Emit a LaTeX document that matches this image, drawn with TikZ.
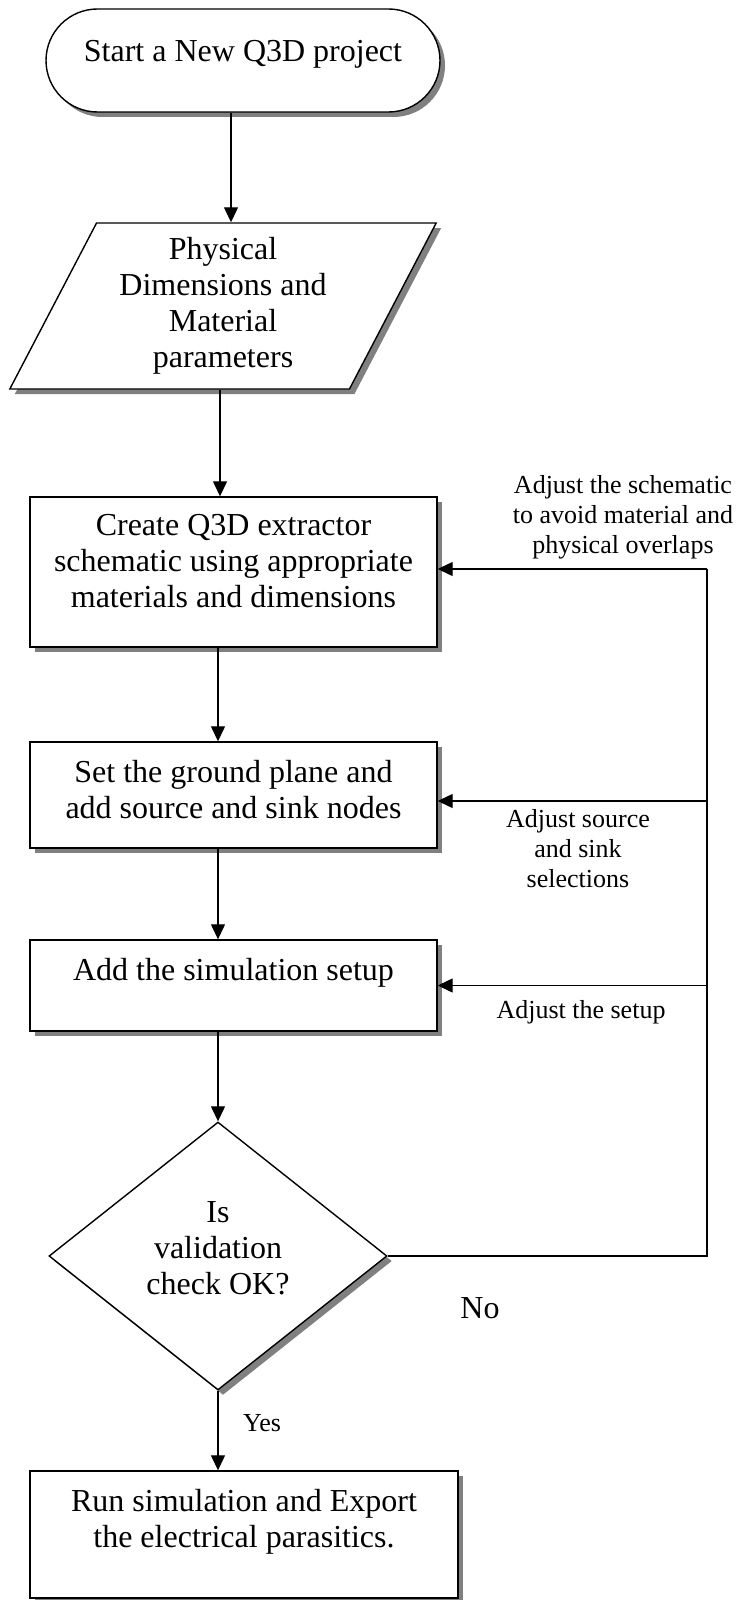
\documentclass[tikz,border=0pt]{standalone}
\usepackage{fontspec}
\setmainfont{Liberation Serif}
\usetikzlibrary{shapes.geometric,shapes.misc,shadows,arrows.meta}
\definecolor{shadowGray}{RGB}{128,128,128}

\begin{document}
\begin{tikzpicture}[x=1pt,y=-1pt,
  box/.style={draw,fill=white,line width=1.4pt,inner sep=0pt,align=center,
    font=\fontsize{32}{36}\selectfont,
    drop shadow={shadow xshift=5pt,shadow yshift=-5pt,fill=shadowGray,opacity=1}},
  note/.style={inner sep=0pt,align=center,font=\fontsize{26}{30}\selectfont},
  arr/.style={line width=1.3pt,-{Triangle[length=15pt,width=14pt]}},
  conn/.style={line width=1.3pt}]
\useasboundingbox (0,0) rectangle (742,1600);

% Flow steps
\node[box,rounded rectangle,minimum width=394pt,minimum height=103pt,text depth=20pt] (start) at (243,60.5) {Start a New Q3D project};
\node[box,trapezium,trapezium left angle=62.6,trapezium right angle=117.4,trapezium stretches=true,
  minimum width=428pt,minimum height=166pt] (input) at (223,306) {Physical\\Dimensions and\\Material\\parameters};
\node[box,minimum width=407pt,minimum height=150pt,text depth=22pt] (create) at (233.5,572) {Create Q3D extractor\\schematic using appropriate\\materials and dimensions};
\node[box,minimum width=407pt,minimum height=106pt,text depth=12pt] (sinks) at (233.5,795) {Set the ground plane and\\add source and sink nodes};
\node[box,minimum width=407pt,minimum height=91pt,text depth=33pt] (setup) at (233.5,985.5) {Add the simulation setup};
\node[box,diamond,minimum width=338pt,minimum height=268pt,text depth=16pt] (check) at (218,1256) {Is\\validation\\check OK?};
\node[box,minimum width=428pt,minimum height=127pt,text depth=33pt] (export) at (244,1534.5) {Run simulation and Export\\the electrical parasitics.};

% Labels
\node[note] (fixschem) at (623,517) {Adjust the schematic\\to avoid material and\\physical overlaps};
\node[note] (fixsink) at (578,849) {Adjust source\\and sink\\selections};
\node[note] (fixsetup) at (581,1012) {Adjust the setup};
\node[inner sep=0pt,font=\fontsize{32}{36}\selectfont] (no) at (480,1308) {No};
\node[note] (yes) at (262,1423) {Yes};

% Main arrows
\draw[arr] ([xshift=-12pt]start.south) -- ([xshift=-12pt]start.south |- input.north);
\draw[arr] ([xshift=-3pt]input.south) -- ([xshift=-3pt]input.south |- create.north);
\draw[arr] (check.north |- create.south) -- (check.north |- sinks.north);
\draw[arr] (check.north |- sinks.south) -- (check.north |- setup.north);
\draw[arr] (check.north |- setup.south) -- (check.north);
\draw[arr] (check.south) -- (check.south |- export.north);

% Feedback loop
\coordinate (loop) at (707,0);
\coordinate (createin) at ([yshift=3pt]create.east);
\coordinate (sinksin) at ([yshift=-6pt]sinks.east);
\draw[conn] (check.east) -- (check.east -| loop) -- (loop |- createin);
\draw[arr] (loop |- createin) -- (createin);
\draw[arr] (loop |- sinksin) -- (sinksin);
\draw[arr] (loop |- setup.east) -- (setup.east);
\end{tikzpicture}
\end{document}
